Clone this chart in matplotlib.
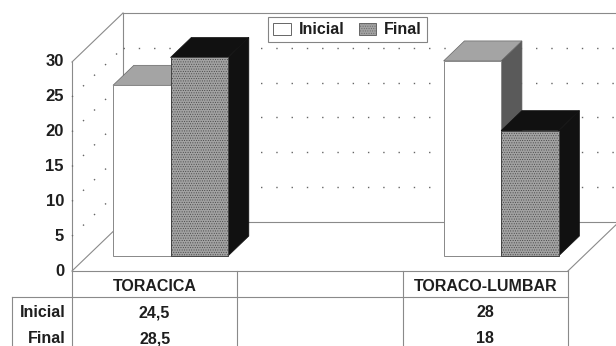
import matplotlib
matplotlib.use("Agg")
import matplotlib.pyplot as plt
from matplotlib.patches import Polygon, Patch

plt.rcParams['font.family'] = ['Liberation Sans', 'DejaVu Sans']
plt.rcParams['hatch.linewidth'] = 0.4

# ---- data ----
categories = ["TORACICA", "", "TORACO-LUMBAR"]
series_names = ["Inicial", "Final"]
inicial = [24.5, None, 28]
final = [28.5, None, 18]
yticks = [0, 5, 10, 15, 20, 25, 30]

# ---- layout (pixel-derived constants) ----
W, H = 616, 346
PX_X = 165.3        # px per category unit
PX_Y = 6.967        # px per value unit
X0_PX, Y0_PX = 72, 271
DX = 51 / PX_X      # depth offset in category units
DY = 49 / PX_Y      # depth offset in value units
YMAX = 30

fig = plt.figure(figsize=(W / 100, H / 100), dpi=100)
ax = fig.add_axes([0, 0, 1, 1])
ax.set_xlim(-X0_PX / PX_X, (W - X0_PX) / PX_X)
ax.set_ylim((Y0_PX - H) / PX_Y, Y0_PX / PX_Y)
ax.axis('off')

ncat = len(categories)
edge = '#8a8a8a'
lw = 0.8
txt = '#1e1e1e'

def P(x, v, d=0.0):
    return (x + d * DX, v + d * DY)

# back wall and side wall frame
ax.plot(*zip(P(0, 0), P(0, YMAX)), color=edge, lw=lw, zorder=1)
ax.plot(*zip(P(0, YMAX), P(0, YMAX, 1)), color=edge, lw=lw, zorder=1)
ax.plot(*zip(P(0, 0, 1), P(0, YMAX, 1)), color=edge, lw=lw, zorder=1)
ax.plot(*zip(P(0, YMAX, 1), P(ncat, YMAX, 1)), color=edge, lw=lw, zorder=1)
# floor
ax.plot(*zip(P(0, 0), P(ncat, 0)), color=edge, lw=lw, zorder=1)
ax.plot(*zip(P(0, 0), P(0, 0, 1)), color=edge, lw=lw, zorder=1)
ax.plot(*zip(P(0, 0, 1), P(ncat, 0, 1)), color=edge, lw=lw, zorder=1)
ax.plot(*zip(P(ncat, 0), P(ncat, 0, 1)), color=edge, lw=lw, zorder=1)

# dotted gridlines
for t in yticks[1:-1]:
    ax.plot(*zip(P(0, t), P(0, t, 1)), color='#666', lw=1.0,
            linestyle=(0, (1, 10)), zorder=1)
    ax.plot(*zip(P(0, t, 1), P(ncat, t, 1)), color='#666', lw=1.0,
            linestyle=(0, (1, 10)), zorder=1)

# y tick labels
for t in yticks:
    ax.text(-8 / PX_X, t, str(t), ha='right', va='center',
            fontsize=12, fontweight='bold', color=txt)

# bars
bw = 57.5 / PX_X
gstart = 25.4 / PX_X
d0, d1 = 0.306, 0.714
styles = [
    dict(front='white', fedge='#888', top='#a4a4a4', side='#5a5a5a', hatch=None),
    dict(front='#a2a2a2', fedge='#444', top='#111111', side='#111111', hatch='.......'),
]

def draw_bar(x, v, st, z):
    f0 = P(x, 0, d0); f1 = P(x + bw, 0, d0)
    f2 = P(x + bw, v, d0); f3 = P(x, v, d0)
    b1 = P(x + bw, 0, d1); b2 = P(x + bw, v, d1); b3 = P(x, v, d1)
    ax.add_patch(Polygon([f1, b1, b2, f2], closed=True, facecolor=st['side'],
                         edgecolor=st['side'], lw=0.5, zorder=z))
    ax.add_patch(Polygon([f3, f2, b2, b3], closed=True, facecolor=st['top'],
                         edgecolor='#666' if st['top'] != '#111111' else '#111111',
                         lw=0.5, zorder=z))
    ax.add_patch(Polygon([f0, f1, f2, f3], closed=True, facecolor=st['front'],
                         edgecolor=st['fedge'], lw=0.7, hatch=st['hatch'], zorder=z))

z = 3
for i in range(ncat):
    vals = [inicial[i], final[i]]
    for k, v in enumerate(vals):
        if v is None:
            continue
        draw_bar(i + gstart + k * bw, v, styles[k], z)
        z += 1

# table
tcol = '#8a8a8a'
row_h = 26 / PX_Y
left_x = (12 - X0_PX) / PX_X
bottom = ax.get_ylim()[0] - 1
ax.plot([left_x, ncat], [-row_h, -row_h], color=tcol, lw=lw, zorder=1)
for xv in range(ncat + 1):
    ax.plot([xv, xv], [0, bottom], color=tcol, lw=lw, zorder=1)
ax.plot([left_x, left_x], [-row_h, bottom], color=tcol, lw=lw, zorder=1)

fmt = lambda v: '' if v is None else f"{v:g}".replace('.', ',')
for i, c in enumerate(categories):
    ax.text(i + 0.5, -row_h * 0.6, c, ha='center', va='center',
            fontsize=11.5, fontweight='bold', color=txt)
    for r, series in enumerate([inicial, final]):
        ax.text(i + 0.5, -row_h * (1.6 + r), fmt(series[i]), ha='center',
                va='center', fontsize=11.5, fontweight='bold', color=txt)
for r, name in enumerate(series_names):
    ax.text(-6 / PX_X, -row_h * (1.6 + r), name, ha='right', va='center',
            fontsize=11.5, fontweight='bold', color=txt)

# legend
handles = [Patch(facecolor=styles[0]['front'], edgecolor='#666', lw=0.7),
           Patch(facecolor=styles[1]['front'], edgecolor='#666', lw=0.7,
                 hatch=styles[1]['hatch'])]
leg = ax.legend(handles, series_names, loc='center', bbox_to_anchor=(0.564, 0.914),
                ncol=2, frameon=True, fancybox=False, edgecolor='#666',
                prop=dict(weight='bold', size=11.5), handlelength=1.1,
                handleheight=0.75, handletextpad=0.5, columnspacing=0.9,
                borderpad=0.3, borderaxespad=0)
leg.get_frame().set_linewidth(0.8)
for tx in leg.get_texts():
    tx.set_color(txt)
leg.set_zorder(20)

fig.savefig('out.png', dpi=100)
